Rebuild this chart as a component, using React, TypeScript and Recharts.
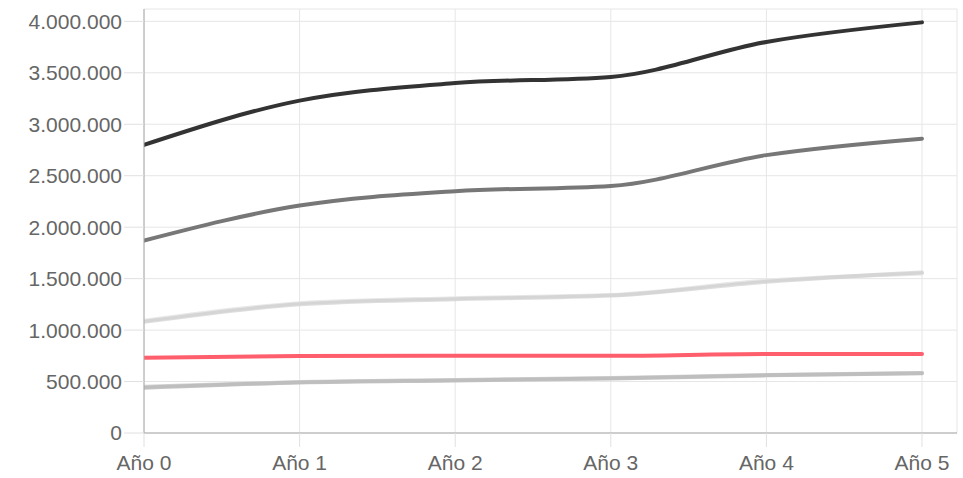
import React from "react";
import { LineChart, Line, XAxis, YAxis, CartesianGrid } from "recharts";

// years on the x axis (Año 0 .. Año 5)
const years = [0, 1, 2, 3, 4, 5];

// series values
const serieTotal = [2800000, 3230000, 3400000, 3460000, 3800000, 3990000];
const serieBruto = [1870000, 2210000, 2350000, 2400000, 2700000, 2860000];
const serieMediaA = [1090000, 1260000, 1310000, 1340000, 1480000, 1550000];
const serieMediaB = [1080000, 1250000, 1300000, 1335000, 1470000, 1560000];
const serieRojo = [730000, 748000, 750000, 750000, 767000, 767000];
const serieBajaA = [450000, 495000, 515000, 534000, 563000, 583000];
const serieBajaB = [440000, 490000, 510000, 530000, 560000, 580000];

const yTicks = [0, 500000, 1000000, 1500000, 2000000, 2500000, 3000000, 3500000, 4000000];

const data = years.map((x, i) => ({
  x,
  total: serieTotal[i],
  bruto: serieBruto[i],
  mediaA: serieMediaA[i],
  mediaB: serieMediaB[i],
  rojo: serieRojo[i],
  bajaA: serieBajaA[i],
  bajaB: serieBajaB[i],
}));

const fmt = (v: number) => String(v).replace(/\B(?=(\d{3})+(?!\d))/g, ".");

const tickStyle = {
  fill: "#666",
  fontSize: 21,
  fontFamily: "'Liberation Sans', Arial, sans-serif",
};

export default function App() {
  return (
    <div style={{ position: "absolute", left: 0, top: 0, background: "#fff" }}>
      <LineChart
        width={963}
        height={478}
        data={data}
        margin={{ top: 9, right: 6, left: 0, bottom: 0 }}
      >
        <CartesianGrid stroke="#e6e6e6" />
        <XAxis
          dataKey="x"
          type="number"
          domain={[0, 5.225]}
          ticks={years}
          allowDataOverflow
          height={45}
          tick={tickStyle}
          tickFormatter={(v) => `Año ${v}`}
          tickSize={14}
          tickMargin={8}
          tickLine={{ stroke: "#e0e0e0" }}
          axisLine={{ stroke: "#a8a8a8" }}
        />
        <YAxis
          type="number"
          domain={[0, 4120000]}
          ticks={yTicks}
          allowDataOverflow
          width={144}
          tick={tickStyle}
          tickFormatter={fmt}
          tickSize={20}
          tickMargin={2}
          tickLine={{ stroke: "#e0e0e0" }}
          axisLine={{ stroke: "#a8a8a8" }}
        />
        <Line type="monotone" dataKey="bajaA" stroke="#d6d6d6" strokeWidth={4} dot={false} strokeLinecap="round" isAnimationActive={false} />
        <Line type="monotone" dataKey="bajaB" stroke="#b8b8b8" strokeWidth={4} dot={false} strokeLinecap="round" strokeOpacity={0.8} isAnimationActive={false} />
        <Line type="monotone" dataKey="rojo" stroke="#ff5e6c" strokeWidth={4} dot={false} strokeLinecap="round" isAnimationActive={false} />
        <Line type="monotone" dataKey="mediaA" stroke="#e8e8e8" strokeWidth={4} dot={false} strokeLinecap="round" isAnimationActive={false} />
        <Line type="monotone" dataKey="mediaB" stroke="#c8c8c8" strokeWidth={4} dot={false} strokeLinecap="round" strokeOpacity={0.6} isAnimationActive={false} />
        <Line type="monotone" dataKey="bruto" stroke="#777777" strokeWidth={4} dot={false} strokeLinecap="round" isAnimationActive={false} />
        <Line type="monotone" dataKey="total" stroke="#333333" strokeWidth={4} dot={false} strokeLinecap="round" isAnimationActive={false} />
      </LineChart>
    </div>
  );
}
